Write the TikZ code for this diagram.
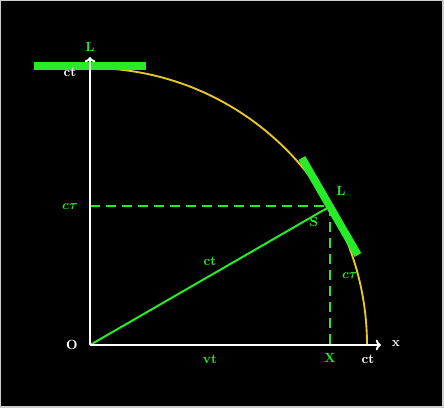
\documentclass[tikz,border=0pt]{standalone}
\usetikzlibrary{calc,arrows.meta}
\definecolor{vert}{RGB}{40,235,40}
\definecolor{jaune}{RGB}{230,200,40}
\begin{document}
\begin{tikzpicture}[x=0.75pt,y=0.75pt,font=\bfseries\boldmath,
    axe/.style={white,line width=1.5pt,-{To[length=4pt,width=8pt]}},
    barre/.style={vert,line width=5.8pt},
    tiret/.style={vert,line width=1.5pt,dash pattern=on 7.5pt off 4.5pt}]
    % Fond
    \fill[gray!40] (-90,-63) rectangle (354,345);
    \fill[black] (-89,-61.5) rectangle (352,344);
    \useasboundingbox (-90,-63) rectangle (354,345);
    % Points
    \coordinate (O) at (0,0);
    \coordinate (S) at (30:277);
    \coordinate (X) at (S |- O);
    \coordinate (T) at (S -| O);
    \coordinate (H) at (0,277);
    \coordinate (R) at (277,0);
    \coordinate (Ltip) at (0,288);
    \coordinate (xtip) at (291,0);
    % Courbe
    \draw[jaune,line width=1.4pt] (H) arc[start angle=90,end angle=0,radius=277];
    % Rayon et projections
    \draw[vert,line width=1.5pt] (O) -- (S);
    \draw[tiret] (T) -- (S);
    \draw[tiret] (S) -- (X);
    % Barres
    \draw[barre] ($(H)+(-56,2)$) -- ($(H)+(56,2)$);
    \draw[barre] ($(S)+(120:56)$) -- ($(S)+(-60:56)$);
    % Axes
    \draw[axe] (O) -- (Ltip);
    \draw[axe] (O) -- (xtip);
    % Labels
    \node[vert] (lL) at ($(Ltip)+(0,10)$) {L};
    \node[white] (ctH) at ($(H)+(-20,-4)$) {ct};
    \node[vert] (lLS) at ($(S)+(11,15.5)$) {L};
    \node[vert] (lS) at ($(S)+(-16,-15.5)$) {S};
    \node[vert] (ctauG) at ($(T)+(-20,0)$) {$c\tau$};
    \node[vert] (ctOS) at ($(O)!0.5!(S)+(0,14)$) {ct};
    \node[vert] (ctauD) at ($(S)!0.5!(X)+(20,0)$) {$c\tau$};
    \node[white] (lO) at ($(O)+(-18,0)$) {O};
    \node[vert] (vt) at ($(O)!0.5!(X)+(0,-14)$) {vt};
    \node[vert] (lX) at ($(X)+(0,-13)$) {X};
    \node[white] (ctR) at ($(R)+(1,-14)$) {ct};
    \node[white] (lx) at ($(xtip)+(15,1)$) {x};
\end{tikzpicture}
\end{document}
